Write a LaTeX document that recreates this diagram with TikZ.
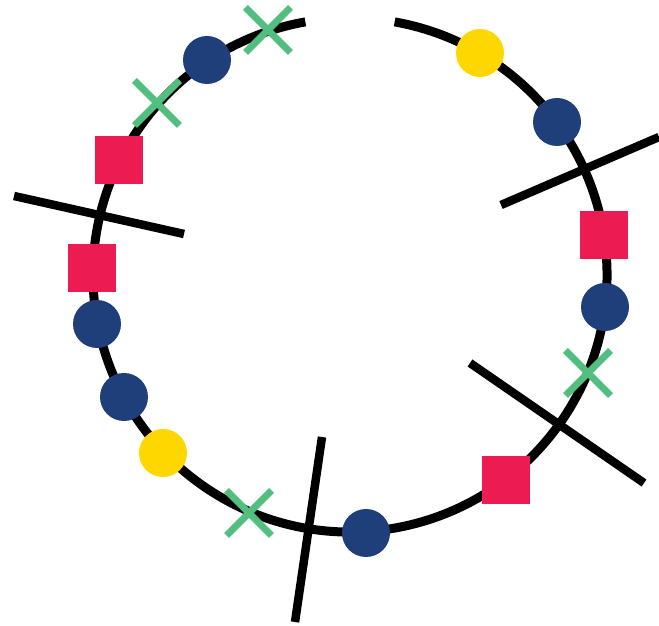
\documentclass[tikz,border=0pt]{standalone}
\usepackage{tikz}
\usetikzlibrary{shapes.misc}
\definecolor{navy}{HTML}{1F3F7A}
\definecolor{crimson}{HTML}{EC1B52}
\definecolor{gold}{HTML}{FFD700}
\definecolor{mint}{HTML}{52BE80}
\begin{document}
\begin{tikzpicture}[x=1pt, y=1pt,
  ring/.style={line width=9pt, black},
  cut/.style={line width=8.5pt, black},
  dot/.style={circle, fill=navy, inner sep=0pt, minimum size=48pt},
  sun/.style={circle, fill=gold, inner sep=0pt, minimum size=48pt},
  blk/.style={rectangle, fill=crimson, inner sep=0pt, minimum size=48pt},
  xmark/.style={cross out, draw=mint, line width=7pt, inner sep=0pt, minimum size=38pt}]
\useasboundingbox (0,0) rectangle (659,626);
% ring with a gap at the top
\coordinate (ctr) at (350,351);
\draw[ring] ([shift={(100:257)}]ctr) arc[start angle=100, end angle=440, radius=257];
% cuts
\coordinate (c1a) at (14,430);  \coordinate (c1b) at (184,392);
\coordinate (c2a) at (322,189); \coordinate (c2b) at (295,4);
\coordinate (c3a) at (470,263); \coordinate (c3b) at (644,143);
\coordinate (c4a) at (501,421); \coordinate (c4b) at (659,489);
\draw[cut] (c1a) -- (c1b);
\draw[cut] (c2a) -- (c2b);
\draw[cut] (c3a) -- (c3b);
\draw[cut] (c4a) -- (c4b);
% markers
\node[xmark] (x1) at (268,596) {};
\node[dot] (d1) at (207,566) {};
\node[xmark] (x2) at (157,523) {};
\node[blk] (s1) at (119,466) {};
\node[blk] (s2) at (92,358) {};
\node[dot] (d2) at (97,302) {};
\node[dot] (d3) at (124,229) {};
\node[sun] (y1) at (163,173) {};
\node[xmark] (x3) at (249,113) {};
\node[dot] (d4) at (366,93) {};
\node[blk] (s3) at (506,146) {};
\node[xmark] (x4) at (588,253) {};
\node[dot] (d5) at (605,319) {};
\node[blk] (s4) at (604,391) {};
\node[dot] (d6) at (557,504) {};
\node[sun] (y2) at (480,573) {};
\end{tikzpicture}
\end{document}
